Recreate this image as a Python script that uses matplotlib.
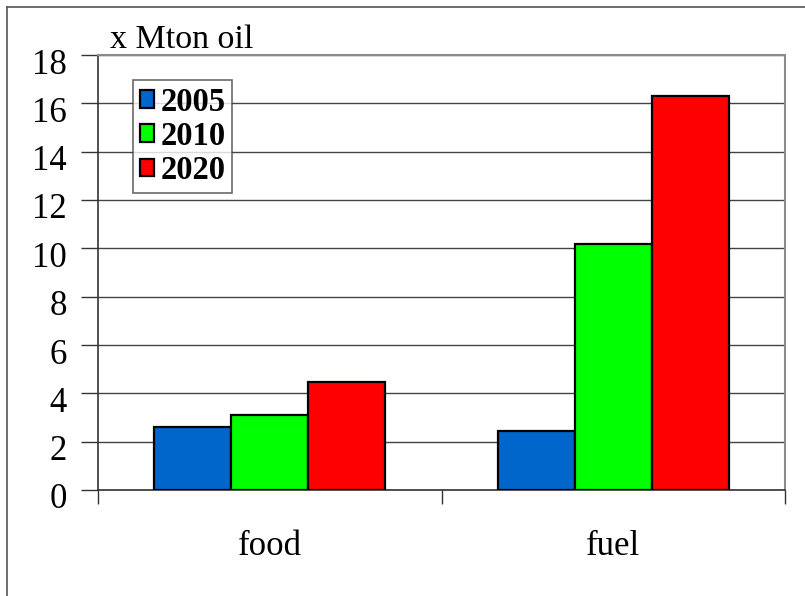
import matplotlib
matplotlib.use("Agg")
import matplotlib.pyplot as plt
import matplotlib.transforms as mtransforms
from matplotlib.lines import Line2D
import numpy as np

categories = ["food", "fuel"]
years = ["2005", "2010", "2020"]
values_2005 = [2.62, 2.45]
values_2010 = [3.10, 10.18]
values_2020 = [4.48, 16.31]
colors = ["#0066CC", "#00FF00", "#FF0000"]
yticks = [0, 2, 4, 6, 8, 10, 12, 14, 16, 18]

plt.rcParams['font.family'] = ['Liberation Serif', 'DejaVu Serif']

W, H = 805, 596
fig = plt.figure(figsize=(W / 100, H / 100), dpi=100)
ax = fig.add_axes([98 / W, (H - 490) / H, (785 - 98) / W, (490 - 55) / H])

x = np.arange(len(categories))
bw = 0.224
series = [values_2005, values_2010, values_2020]
for i, (vals, c, lab) in enumerate(zip(series, colors, years)):
    ax.bar(x + (i - 1) * bw, vals, bw, color=c, edgecolor="black",
           linewidth=1.6, label=lab, zorder=3)

ax.set_xlim(-0.5, 1.5)
ax.set_ylim(0, 18)
ax.set_yticks(yticks)
ax.set_yticklabels([str(t) for t in yticks], fontsize=25)
ax.yaxis.grid(True, color="#444444", linewidth=1.0, zorder=0)
ax.set_axisbelow(True)

ax.set_xticks([-0.5, 0.5, 1.5])
ax.set_xticklabels([])
ax.set_xticks(x, minor=True)
ax.set_xticklabels(categories, minor=True, fontsize=25)
ax.tick_params(axis="x", which="minor", length=0, pad=29)
ax.tick_params(axis="x", which="major", length=10, width=1, color="#333333", direction="out")
ax.tick_params(axis="y", length=12, width=1, color="#333333", direction="out", pad=10.5)

off = mtransforms.ScaledTranslation(0, -6 / 100, fig.dpi_scale_trans)
for t in ax.yaxis.get_major_ticks():
    t.label1.set_transform(t.label1.get_transform() + off)

for s in ["top", "right"]:
    ax.spines[s].set_color("#8c8c8c")
    ax.spines[s].set_linewidth(1.5)
for s in ["left", "bottom"]:
    ax.spines[s].set_color("#333333")
    ax.spines[s].set_linewidth(1.2)

leg = ax.legend(loc="upper left", bbox_to_anchor=(35 / 687, (490 - 80) / 435),
                prop={"weight": "bold", "size": 23.5, "family": "Liberation Serif"},
                frameon=True, fancybox=False, edgecolor="#444444",
                handlelength=0.45, handleheight=0.45, handletextpad=0.2,
                borderpad=0.2, labelspacing=0.1, borderaxespad=0)
leg.get_frame().set_linewidth(1.2)

fig.text(110 / W, 1 - 48 / H, "x Mton oil", fontsize=24.5, ha="left", va="baseline")

fig.add_artist(Line2D([7 / W, 7 / W], [0, 1 - 7 / H], color="#555555", linewidth=1.2))
fig.add_artist(Line2D([7 / W, 1], [1 - 7 / H, 1 - 7 / H], color="#555555", linewidth=1.2))

fig.savefig("out.png", dpi=100)
